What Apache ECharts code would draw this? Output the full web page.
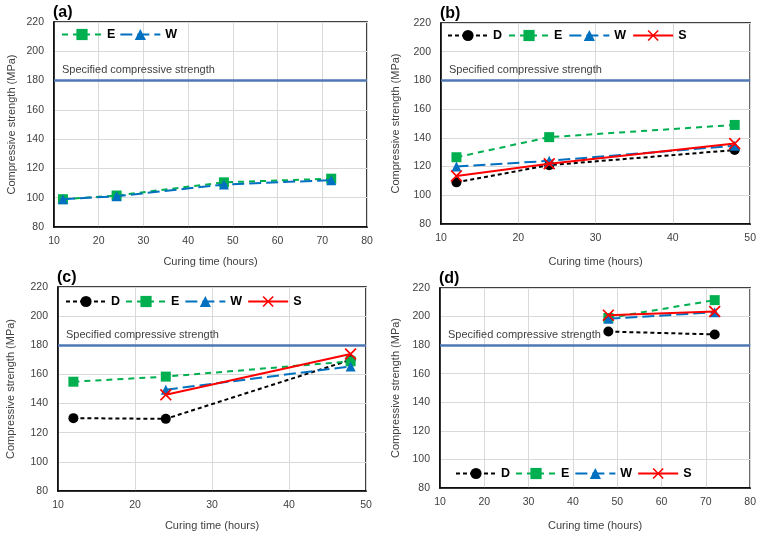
<!DOCTYPE html>
<html><head><meta charset="utf-8">
<script src="https://cdn.jsdelivr.net/npm/echarts@6/dist/echarts.min.js"></script>
<style>html,body{margin:0;padding:0;background:#fff}#c{width:759px;height:537px}</style>
</head><body><div id="c"></div>
<script>
// ---- data ----
const panelTitles = ['(a)', '(b)', '(c)', '(d)'];
const yTicks = [80, 100, 120, 140, 160, 180, 200, 220];
const specifiedStrength = 180;
const specifiedLabel = 'Specified compressive strength';
const xName = 'Curing time (hours)';
const yName = 'Compressive strength (MPa)';

const timesA = [12, 24, 48, 72];
const aE = [99, 101.5, 110.5, 113];
const aW = [99, 101, 109, 112];

const timesB = [12, 24, 48];
const bD = [109, 121, 131.5];
const bE = [126.5, 140.5, 149];
const bW = [120, 124, 134.5];
const bS = [113.5, 122, 136];

const timesC = [12, 24, 48];
const cD = [130, 129.5, 170];
const cE = [155, 158.5, 169];
const cW = [null, 149.5, 165.5];
const cS = [null, 146, 174];

const timesD = [48, 72];
const dD = [189.5, 187.5];
const dE = [199, 211.5];
const dW = [198.5, 203];
const dS = [201, 203.5];

const xMaxes = [80, 50, 50, 80];

// ---- styles ----
const FONT = 'Liberation Sans';
const styles = {
  D: {color: '#000000', type: [4, 3], symbol: 'circle', size: 10},
  E: {color: '#00b050', type: [6, 5], symbol: 'rect', size: 10},
  W: {color: '#0070c0', type: [12, 5], symbol: 'triangle', size: 10},
  S: {color: '#ff0000', type: 'solid', symbol: 'path://M1,0 L5,4 L9,0 L10,1 L6,5 L10,9 L9,10 L5,6 L1,10 L0,9 L4,5 L0,1 Z', size: 12}
};

const grids = [
  {left: 54, top: 22, width: 313, height: 205},
  {left: 441, top: 23, width: 310, height: 201},
  {left: 58, top: 287, width: 308, height: 204},
  {left: 440, top: 288, width: 311, height: 200}
];

const panelSeries = [
  {times: timesA, data: {E: aE, W: aW}},
  {times: timesB, data: {D: bD, E: bE, W: bW, S: bS}},
  {times: timesC, data: {D: cD, E: cE, W: cW, S: cS}},
  {times: timesD, data: {D: dD, E: dE, W: dW, S: dS}}
];

const legendPos = [
  {left: 56, top: 23, gap: 4},
  {left: 442, top: 24, gap: 6},
  {left: 60, top: 290, gap: 5},
  {left: 450, top: 462, gap: 5}
];
const yNameGaps = [37, 40, 42, 39];
const xNameGaps = [29, 32, 29, 32];

const series = [];
panelSeries.forEach((p, i) => {
  Object.keys(p.data).forEach((k, j) => {
    const st = styles[k];
    const s = {
      name: k, type: 'line', xAxisIndex: i, yAxisIndex: i,
      data: p.times.map((t, n) => [t, p.data[k][n]]),
      connectNulls: false,
      symbol: st.symbol, symbolSize: st.size,
      lineStyle: {color: st.color, width: 2, type: st.type},
      itemStyle: {color: st.color},
      z: 3 + j,
      animation: false
    };
    if (j === 0) {
      s.markLine = {
        silent: true, symbol: ['none', 'none'], animation: false,
        lineStyle: {color: '#4f77b3', width: 2.5, type: 'solid'},
        label: {show: true, position: 'insideStartTop', formatter: specifiedLabel,
          color: '#404040', fontSize: 11, fontFamily: FONT, distance: [8, 5]},
        data: [{yAxis: specifiedStrength}]
      };
    }
    series.push(s);
  });
});

const option = {
  animation: false,
  backgroundColor: '#fff',
  title: panelTitles.map((t, i) => ({
    text: t, left: grids[i].left - 6, top: grids[i].top - 22,
    textStyle: {fontSize: 16, fontWeight: 'bold', color: '#000', fontFamily: FONT}
  })),
  grid: grids.map(g => Object.assign({show: true, borderColor: '#000', borderWidth: 1.5, backgroundColor: 'transparent'}, g)),
  legend: panelSeries.map((p, i) => ({
    data: Object.keys(p.data),
    left: legendPos[i].left, top: legendPos[i].top,
    itemWidth: 40, itemHeight: 14, itemGap: legendPos[i].gap,
    textStyle: {fontSize: 12.5, fontWeight: 'bold', color: '#000', fontFamily: FONT},
    selectedMode: false
  })),
  xAxis: grids.map((g, i) => ({
    type: 'value', gridIndex: i, min: 10, max: xMaxes[i], interval: 10,
    name: xName, nameLocation: 'middle', nameGap: xNameGaps[i],
    nameTextStyle: {fontSize: 11, color: '#404040', fontFamily: FONT},
    axisLine: {show: true, lineStyle: {color: '#000', width: 1.5}},
    axisTick: {show: false},
    axisLabel: {fontSize: 10.5, color: '#404040', fontFamily: FONT, margin: 9},
    splitLine: {show: true, lineStyle: {color: '#d9d9d9', width: 1}}
  })),
  yAxis: grids.map((g, i) => ({
    type: 'value', gridIndex: i, min: yTicks[0], max: yTicks[yTicks.length - 1], interval: 20,
    name: yName, nameLocation: 'middle', nameGap: yNameGaps[i], nameRotate: 90,
    nameTextStyle: {fontSize: 11, color: '#404040', fontFamily: FONT},
    axisLine: {show: true, lineStyle: {color: '#000', width: 1.5}},
    axisTick: {show: false},
    axisLabel: {fontSize: 10.5, color: '#404040', fontFamily: FONT, margin: 10},
    splitLine: {show: true, lineStyle: {color: '#d9d9d9', width: 1}}
  })),
  series: series
};

const chart = echarts.init(document.getElementById('c'), null, {renderer: 'canvas'});
chart.setOption(option);
</script>
</body></html>
